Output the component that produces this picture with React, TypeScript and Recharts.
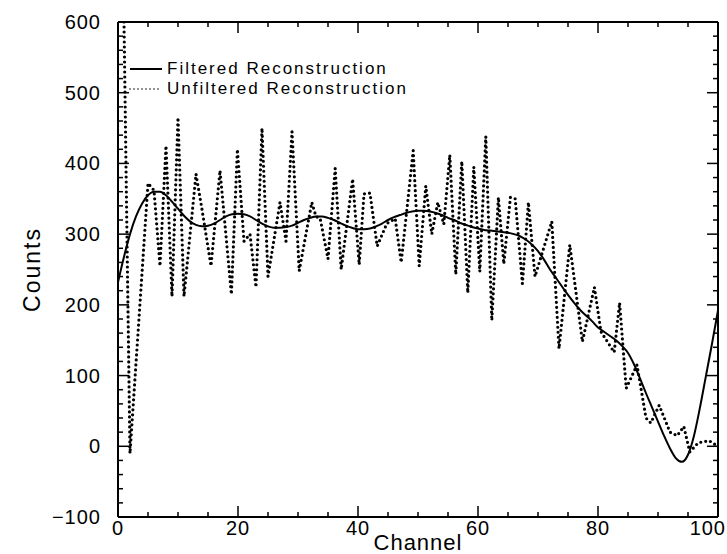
import React from "react";
import { LineChart, Line, XAxis, YAxis, Legend } from "recharts";

// smooth (filtered) reconstruction, one value per channel
const filteredChannels = [
  0, 1, 2, 3, 4, 5, 6, 7, 8, 9, 10, 11, 12, 13, 14, 15, 16, 17, 18, 19, 20,
  21, 22, 23, 24, 25, 26, 27, 28, 29, 30, 31, 32, 33, 34, 35, 36, 37, 38, 39, 40,
  41, 42, 43, 44, 45, 46, 47, 48, 49, 50, 51, 52, 53, 54, 55, 56, 57, 58, 59, 60,
  61, 62, 63, 64, 65, 66, 67, 68, 69, 70, 71, 72, 73, 74, 75, 76, 77, 78, 79, 80,
  81, 82, 83, 84, 85, 86, 87, 88, 89, 90, 91, 92, 93, 94, 95, 96, 97, 98, 99, 100,
];
const filteredCounts = [
  232, 268, 300, 325, 343, 355, 360, 360, 355, 346, 336, 326, 318, 313, 311, 312, 315, 320, 325, 328, 329,
  328, 325, 320, 315, 311, 309, 309, 310, 312, 316, 320, 323, 325, 325, 323, 320, 316, 312, 309, 307,
  307, 308, 311, 315, 320, 324, 327, 330, 332, 333, 333, 332, 330, 327, 323, 320, 316, 313, 310, 308,
  306, 305, 304, 303, 302, 300, 297, 292, 285, 276, 264, 250, 238, 226, 214, 203, 193, 185, 177, 168,
  162, 156, 150, 142, 132, 116, 96, 75, 55, 35, 15, -3, -17, -22, -12, 15, 55, 100, 145, 192,
];

const unfilteredChannels = [
  1, 2, 5, 6, 7, 8, 9, 10, 11, 13, 14, 15.5, 17, 18.9, 19.9, 21, 22, 23, 24, 25,
  27, 28, 29, 30.2, 32.3, 33, 33.7, 35, 36.2, 37.2, 39.1, 40.2, 41, 42, 43.2, 44.8, 46.2, 47.2, 49.2, 50.2,
  51.3, 52.3, 53.3, 54.3, 55.3, 56.3, 57.3, 58.3, 59.3, 60.3, 61.3, 62.3, 63.4, 64.3, 65.4, 66.2, 67.4, 68.4, 69.5, 72.3,
  73.5, 75.3, 77.4, 79.4, 80.5, 82.7, 83.6, 84.7, 86.5, 88, 88.8, 90.2, 92, 93.2, 94.3, 95.3, 96.7, 98.5, 100,
];
const unfilteredCounts = [
  600, -10, 372, 362, 255, 425, 212, 465, 212, 385, 335, 255, 390, 215, 420, 290, 300, 225, 450, 240,
  345, 290, 445, 248, 345, 325, 322, 265, 393, 250, 378, 257, 357, 358, 283, 315, 322, 260, 418, 255,
  368, 300, 345, 314, 412, 243, 403, 217, 395, 247, 438, 178, 352, 258, 352, 350, 230, 345, 240, 318,
  138, 285, 148, 225, 162, 133, 203, 82, 115, 40, 33, 58, 20, 15, 28, -8, 5, 8, 0,
];

const xTicks = [0, 5, 10, 15, 20, 25, 30, 35, 40, 45, 50, 55, 60, 65, 70, 75, 80, 85, 90, 95, 100];
const yTicks = [
  -100, -80, -60, -40, -20, 0, 20, 40, 60, 80, 100, 120, 140, 160, 180, 200, 220, 240, 260, 280, 300,
  320, 340, 360, 380, 400, 420, 440, 460, 480, 500, 520, 540, 560, 580, 600,
];
const xLabels = [0, 20, 40, 60, 80, 100];
const yLabels = [-100, 0, 100, 200, 300, 400, 500, 600];

const filteredData = filteredChannels.map((ch, i) => ({ ch, counts: filteredCounts[i] }));
const unfilteredData = unfilteredChannels.map((ch, i) => ({ ch, counts: unfilteredCounts[i] }));

const FONT = "'Liberation Sans', Arial, sans-serif";
const MAJOR = 11;
const MINOR = 5;

const fmt = (v: number) => (v < 0 ? `\u2212${-v}` : `${v}`);

// ticks point into the plot; (x, y) is the spot on the frame line
const BottomTick = ({ x, y, payload }: any) => {
  const major = xLabels.includes(payload.value);
  const last = payload.value === xLabels[xLabels.length - 1];
  return (
    <g>
      <line x1={x} x2={x} y1={y} y2={y - (major ? MAJOR : MINOR)} stroke="#000" strokeWidth={1.5} />
      {major && (
        <text x={last ? x + 8 : x} y={y + 18} textAnchor={last ? "end" : "middle"} fontSize={20}
          letterSpacing={1} fontFamily={FONT} fill="#000">
          {fmt(payload.value)}
        </text>
      )}
    </g>
  );
};

const TopTick = ({ x, y, payload }: any) => {
  const major = xLabels.includes(payload.value);
  return <line x1={x} x2={x} y1={y} y2={y + (major ? MAJOR : MINOR)} stroke="#000" strokeWidth={1.5} />;
};

const LeftTick = ({ x, y, payload }: any) => {
  const major = yLabels.includes(payload.value);
  return (
    <g>
      <line x1={x} x2={x + (major ? MAJOR : MINOR)} y1={y} y2={y} stroke="#000" strokeWidth={1.5} />
      {major && (
        <text x={x - 17} y={y + 7} textAnchor="end" fontSize={20} letterSpacing={1} fontFamily={FONT} fill="#000">
          {fmt(payload.value)}
        </text>
      )}
    </g>
  );
};

const RightTick = ({ x, y, payload }: any) => {
  const major = yLabels.includes(payload.value);
  return <line x1={x} x2={x - (major ? MAJOR : MINOR)} y1={y} y2={y} stroke="#000" strokeWidth={1.5} />;
};

const renderLegend = () => (
  <div style={{ fontFamily: FONT, fontSize: 17, letterSpacing: 2, color: "#000", lineHeight: "20px" }}>
    <div style={{ display: "flex", alignItems: "center" }}>
      <svg width={36} height={20}>
        <line x1={2} x2={34} y1={10} y2={10} stroke="#000" strokeWidth={2} />
      </svg>
      <span style={{ marginLeft: 3 }}>Filtered Reconstruction</span>
    </div>
    <div style={{ display: "flex", alignItems: "center" }}>
      <svg width={36} height={20}>
        <line x1={2} x2={34} y1={10} y2={10} stroke="#000" strokeWidth={1.6} strokeDasharray="0 4" strokeLinecap="round" />
      </svg>
      <span style={{ marginLeft: 3 }}>Unfiltered Reconstruction</span>
    </div>
  </div>
);

const CountsLabel = ({ viewBox }: any) => {
  const cx = viewBox.x + 32;
  const cy = viewBox.y + viewBox.height / 2;
  return (
    <text x={cx} y={cy} transform={`rotate(-90, ${cx}, ${cy})`} textAnchor="middle" dominantBaseline="central"
      fontSize={23} letterSpacing={2} fontFamily={FONT} fill="#000">
      Counts
    </text>
  );
};

const ChannelLabel = ({ viewBox }: any) => (
  <text x={viewBox.x + viewBox.width / 2} y={viewBox.y + viewBox.height - 4} textAnchor="middle"
    fontSize={22} letterSpacing={1} fontFamily={FONT} fill="#000">
    Channel
  </text>
);

export default function App() {
  return (
    <div style={{ position: "absolute", left: 0, top: 0, background: "#fff" }}>
      <LineChart width={727} height={554} margin={{ top: 21, right: 8, bottom: 0, left: 0 }}>
        <XAxis
          dataKey="ch"
          type="number"
          domain={[0, 100]}
          ticks={xTicks}
          interval={0}
          allowDataOverflow
          height={37}
          tickSize={0}
          tickMargin={0}
          tickLine={false}
          axisLine={{ stroke: "#000", strokeWidth: 2 }}
          tick={<BottomTick />}
          label={<ChannelLabel />}
        />
        <XAxis
          xAxisId="top"
          dataKey="ch"
          type="number"
          orientation="top"
          domain={[0, 100]}
          ticks={xTicks}
          interval={0}
          allowDataOverflow
          height={1}
          tickSize={0}
          tickMargin={0}
          tickLine={false}
          axisLine={{ stroke: "#000", strokeWidth: 2 }}
          tick={<TopTick />}
        />
        <YAxis
          type="number"
          domain={[-100, 600]}
          ticks={yTicks}
          interval={0}
          allowDataOverflow
          width={118}
          tickSize={0}
          tickMargin={0}
          tickLine={false}
          axisLine={{ stroke: "#000", strokeWidth: 2 }}
          tick={<LeftTick />}
          label={<CountsLabel />}
        />
        <YAxis
          yAxisId="right"
          type="number"
          orientation="right"
          domain={[-100, 600]}
          ticks={yTicks}
          interval={0}
          allowDataOverflow
          width={1}
          tickSize={0}
          tickMargin={0}
          tickLine={false}
          axisLine={{ stroke: "#000", strokeWidth: 2 }}
          tick={<RightTick />}
        />
        <Legend
          layout="vertical"
          align="center"
          verticalAlign="middle"
          content={renderLegend}
          wrapperStyle={{ left: 128, top: 59, width: "auto" }}
        />
        <Line
          data={unfilteredData}
          dataKey="counts"
          type="linear"
          stroke="#000"
          strokeWidth={3.2}
          strokeDasharray="0 5"
          strokeLinecap="round"
          dot={false}
          activeDot={false}
          isAnimationActive={false}
        />
        <Line
          data={filteredData}
          dataKey="counts"
          type="monotone"
          stroke="#000"
          strokeWidth={2}
          dot={false}
          activeDot={false}
          isAnimationActive={false}
        />
      </LineChart>
    </div>
  );
}
